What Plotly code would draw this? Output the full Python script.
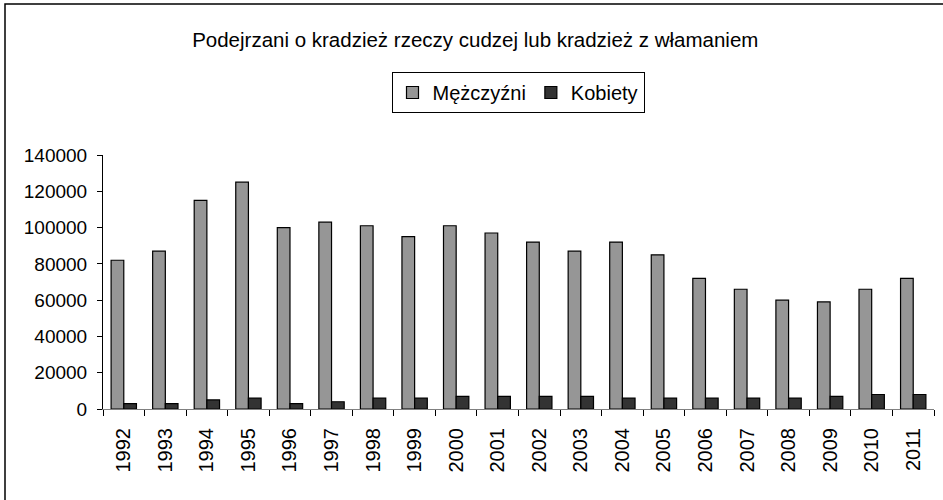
import plotly.graph_objects as go

years = [str(y) for y in range(1992, 2012)]
men = [82000, 87000, 115000, 125000, 100000, 103000, 101000, 95000, 101000, 97000,
       92000, 87000, 92000, 85000, 72000, 66000, 60000, 59000, 66000, 72000]
women = [3000, 3000, 5000, 6000, 3000, 4000, 6000, 6000, 7000, 7000,
         7000, 7000, 6000, 6000, 6000, 6000, 6000, 7000, 8000, 8000]
y_ticks = [0, 20000, 40000, 60000, 80000, 100000, 120000, 140000]
y_tick_text = ["0", "20000", "40000", "60000", "80000", "100000", "120000", "140000"]

FONT = "Liberation Sans, Arial, sans-serif"

fig = go.Figure()
fig.add_trace(go.Bar(x=years, y=men, name="Mężczyźni",
                     marker=dict(color="#969696", line=dict(color="#000000", width=1.2))))
fig.add_trace(go.Bar(x=years, y=women, name="Kobiety",
                     marker=dict(color="#333333", line=dict(color="#000000", width=1.2))))

W, H = 943, 500
L, R, T, B = 103, 9, 155, 91
pw, ph = W - L - R, H - T - B

def px_x(x):
    return (x - L) / pw

def px_y(y):
    return (H - B - y) / ph

fig.update_layout(
    width=W, height=H,
    margin=dict(l=L, r=R, t=T, b=B),
    paper_bgcolor="white", plot_bgcolor="white",
    font=dict(family=FONT, size=20, color="black"),
    barmode="group", bargap=0.39, bargroupgap=0,
    title=dict(text="Podejrzani o kradzież rzeczy cudzej lub kradzież z włamaniem",
               x=0.504, xanchor="center", y=1 - 40 / H, yanchor="middle",
               font=dict(family=FONT, size=20.5, color="black")),
    legend=dict(orientation="h", x=px_x(518), xanchor="center", y=px_y(72), yanchor="top",
                bordercolor="black", borderwidth=1, bgcolor="white",
                font=dict(family=FONT, size=20, color="black"),
                itemwidth=30, traceorder="normal"),
    xaxis=dict(type="category", showline=True, linecolor="#808080", linewidth=1,
               ticks="outside", tickson="boundaries", ticklen=6, tickcolor="#000000",
               tickangle=-90, showgrid=False, tickfont=dict(size=20), zeroline=False,
               ticklabelstandoff=10),
    yaxis=dict(range=[0, 140000], tickvals=y_ticks, ticktext=y_tick_text, showline=True,
               linecolor="black", linewidth=1, ticks="outside", ticklen=5, tickcolor="black",
               showgrid=False, zeroline=False, tickfont=dict(size=19),
               ticklabelstandoff=6),
    shapes=[dict(type="rect", xref="paper", yref="paper",
                 x0=px_x(5), x1=px_x(W + 20), y0=px_y(H + 20), y1=px_y(4),
                 line=dict(color="black", width=1.5), fillcolor="rgba(0,0,0,0)",
                 layer="below")],
)

fig.write_html("out.html", config={"displayModeBar": False},
               post_script="document.body.style.margin='0px';document.body.style.padding='0px';")
